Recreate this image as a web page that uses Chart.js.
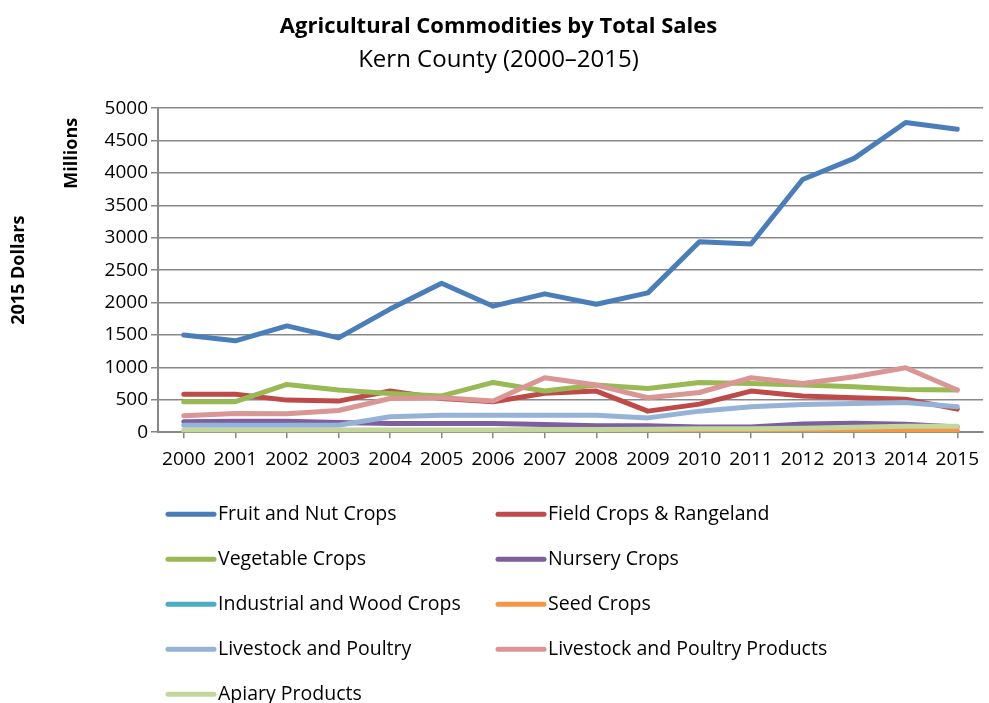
<!DOCTYPE html>
<html>
<head>
<meta charset="utf-8">
<script src="https://cdn.jsdelivr.net/npm/chart.js@4/dist/chart.umd.min.js"></script>
<style>
  html, body { margin: 0; padding: 0; background: #fff; }
  #wrap { width: 989px; height: 703px; }
</style>
</head>
<body>
<div id="wrap"><canvas id="chart" width="989" height="703"></canvas></div>
<script>
const years = ['2000', '2001', '2002', '2003', '2004', '2005', '2006', '2007',
  '2008', '2009', '2010', '2011', '2012', '2013', '2014', '2015'];

// values in millions of 2015 dollars
const fruitNut = [1500, 1410, 1640, 1455, 1900, 2300, 1945, 2135, 1975, 2150, 2940, 2905, 3900, 4225, 4780, 4675];
const fieldCrops = [585, 585, 495, 480, 635, 520, 470, 600, 635, 325, 433, 635, 557, 530, 510, 356];
const vegetable = [469, 470, 737, 650, 598, 560, 768, 635, 727, 675, 768, 752, 727, 700, 660, 650];
const nursery = [160, 170, 170, 149, 133, 133, 133, 118, 98, 98, 82, 82, 128, 139, 122, 82];
const industrialWood = [5, 5, 4, 4, 4, 4, 3, 3, 3, 3, 3, 3, 3, 3, 3, 3];
const seed = [5, 5, 5, 5, 5, 10, 10, 10, 10, 10, 10, 10, 10, 15, 25, 25];
const livestock = [108, 108, 108, 108, 237, 263, 263, 263, 263, 221, 325, 391, 427, 443, 458, 391];
const livestockProducts = [252, 290, 283, 334, 520, 531, 480, 840, 727, 531, 613, 840, 752, 856, 995, 650];
const apiary = [30, 30, 30, 35, 35, 35, 35, 40, 40, 45, 55, 55, 60, 75, 90, 90];

const seriesNames = ['Fruit and Nut Crops', 'Field Crops & Rangeland', 'Vegetable Crops', 'Nursery Crops',
  'Industrial and Wood Crops', 'Seed Crops', 'Livestock and Poultry', 'Livestock and Poultry Products', 'Apiary Products'];
const seriesValues = [fruitNut, fieldCrops, vegetable, nursery, industrialWood, seed, livestock, livestockProducts, apiary];
const seriesColors = ['#4a7ebb', '#be4b48', '#98b954', '#7d5fa0', '#4bacc6', '#f79646', '#95b3d7', '#d99694', '#c3d69b'];

const FONT = "'Open Sans', 'Liberation Sans', sans-serif";

// draws "Millions" next to the top of the value axis
const unitLabel = {
  id: 'unitLabel',
  afterDraw(chart) {
    const ctx = chart.ctx;
    const area = chart.chartArea;
    ctx.save();
    ctx.translate(area.left - 86, area.top + 45);
    ctx.rotate(-Math.PI / 2);
    ctx.font = 'bold 18px ' + FONT;
    ctx.fillStyle = '#000';
    ctx.textAlign = 'center';
    ctx.textBaseline = 'middle';
    ctx.fillText('Millions', 0, 0);
    ctx.restore();
  }
};

// two-column legend under the axis, like the spreadsheet one
const gridLegend = {
  id: 'gridLegend',
  afterDraw(chart) {
    const ctx = chart.ctx;
    const area = chart.chartArea;
    ctx.save();
    ctx.font = '19.5px ' + FONT;
    ctx.textBaseline = 'middle';
    ctx.fillStyle = '#000';
    chart.data.datasets.forEach((ds, i) => {
      const col = i % 2;
      const row = Math.floor(i / 2);
      const x = area.left + 10 + col * 330;
      const y = area.bottom + 82 + row * 45;
      ctx.strokeStyle = ds.borderColor;
      ctx.lineWidth = 5;
      ctx.lineCap = 'round';
      ctx.beginPath();
      ctx.moveTo(x, y);
      ctx.lineTo(x + 46, y);
      ctx.stroke();
      ctx.fillText(ds.label, x + 50, y);
    });
    ctx.restore();
  }
};

new Chart(document.getElementById('chart'), {
  type: 'line',
  data: {
    labels: years,
    datasets: seriesNames.map((name, i) => ({
      label: name,
      data: seriesValues[i],
      borderColor: seriesColors[i],
      backgroundColor: seriesColors[i],
      borderWidth: 5,
      pointRadius: 0,
      tension: 0,
      borderJoinStyle: 'round',
      borderCapStyle: 'round',
      order: seriesNames.length - i
    }))
  },
  options: {
    responsive: false,
    animation: false,
    layout: { padding: { left: 8, right: 0, top: 0, bottom: 222 } },
    plugins: {
      legend: { display: false },
      tooltip: { enabled: false },
      title: {
        display: true,
        text: 'Agricultural Commodities by Total Sales',
        color: '#000',
        font: { family: FONT, size: 22, weight: 'bold' },
        padding: { top: 14, bottom: 5 }
      },
      subtitle: {
        display: true,
        text: 'Kern County (2000–2015)',
        color: '#000',
        font: { family: FONT, size: 24 },
        padding: { top: 0, bottom: 34 }
      }
    },
    scales: {
      x: {
        offset: true,
        grid: { display: true, drawOnChartArea: false, drawTicks: true, tickLength: 6, color: '#888', lineWidth: 1.5 },
        border: { color: '#888', width: 2 },
        ticks: { color: '#000', font: { family: FONT, size: 19 }, padding: 10, maxRotation: 0, autoSkip: false }
      },
      y: {
        min: 0,
        max: 5000,
        afterFit(scale) { scale.width = 150; },
        grid: { color: '#888', lineWidth: 1.5, tickLength: 7 },
        border: { color: '#888', width: 2 },
        ticks: {
          stepSize: 500,
          color: '#000',
          font: { family: FONT, size: 19 },
          padding: 3,
          callback: v => String(v)
        },
        title: {
          display: true,
          text: '2015 Dollars',
          color: '#000',
          font: { family: FONT, size: 18, weight: 'bold' },
          padding: { top: 0, bottom: 0 }
        }
      }
    }
  },
  plugins: [unitLabel, gridLegend]
});
</script>
</body>
</html>
